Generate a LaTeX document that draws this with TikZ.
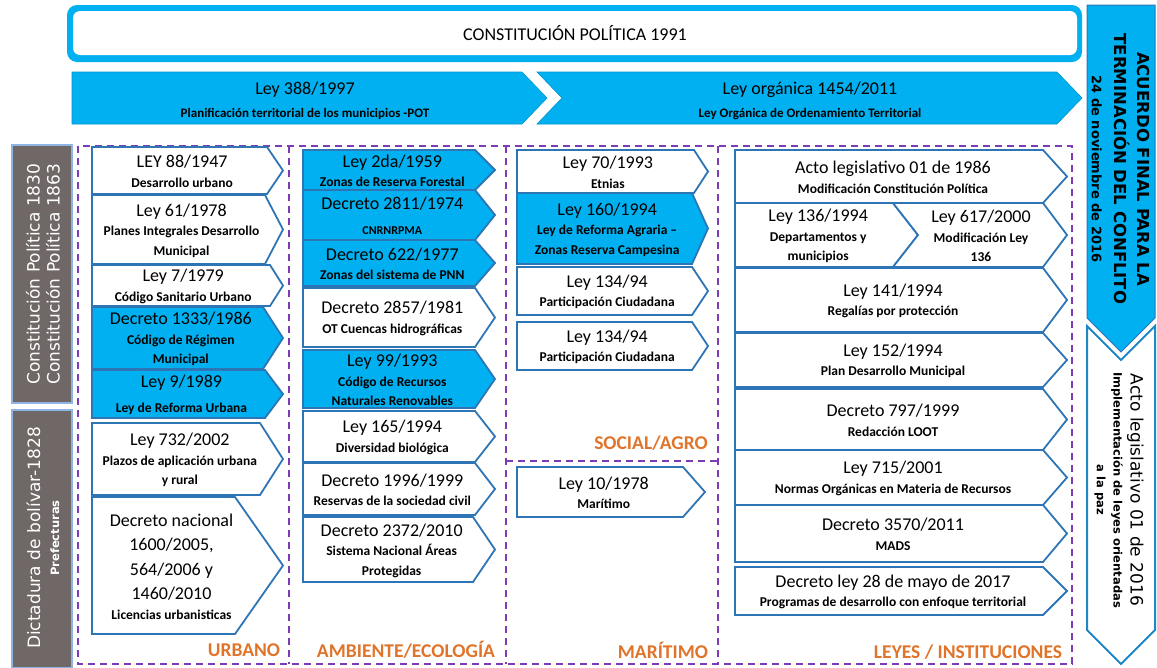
\documentclass[tikz,border=0pt]{standalone}
\usepackage{fontspec}
\setmainfont{Carlito}
\newfontfamily\dvs{DejaVu Sans}
\definecolor{cy}{HTML}{00B0F0}
\definecolor{bl}{HTML}{2E75B6}
\definecolor{pu}{HTML}{7D3CB5}
\definecolor{org}{HTML}{E0742A}
\definecolor{gy}{HTML}{6F6866}
\definecolor{lb}{HTML}{8FB4E3}
\newcommand\ttl{\fontsize{18}{20}\selectfont\mdseries}
\newcommand\sbt{\fontsize{13.5}{19.5}\selectfont\bfseries}
% name, x1, y1, xpoint, y2, depth, fill, text
\newcommand\lbox[8]{%
  \filldraw[boxline, fill=#7] (#2,#3) -- ({#4-#6},#3) -- (#4,{(#3+#5)/2}) -- ({#4-#6},#5) -- (#2,#5) -- cycle;
  \node[lt] (#1) at ({(#2+#4)/2-#6/3},{(#3+#5)/2+1}) {#8};}
\begin{document}
\begin{tikzpicture}[x=1pt,y=-1pt,
  boxline/.style={draw=bl,line width=1.8pt,line join=miter},
  lt/.style={align=center,inner sep=0pt,text=black,font=\sbt},
  dsh/.style={draw=pu,line width=1.8pt,dash pattern=on 7pt off 5pt},
  lab/.style={text=org,font=\fontsize{19.5}{22}\selectfont\bfseries,inner sep=0pt},
  gtx/.style={text=white,align=center,inner sep=0pt,rotate=90}]
\useasboundingbox (0,0) rectangle (1157,667);
% top box
\fill[cy,rounded corners=10pt] (67,5) rectangle (1082,62);
\fill[white,rounded corners=7pt] (73,11) rectangle (1077,55);
\node[lt] (const) at (575,33) {\ttl CONSTITUCIÓN POLÍTICA 1991};
% chevrons
\filldraw[fill=cy,draw=cy!85!black,line width=0.6pt] (72,72) -- (522,72) -- (547,98) -- (522,124) -- (72,124) -- cycle;
\filldraw[fill=cy,draw=cy!85!black,line width=0.6pt] (537,72) -- (1057,72) -- (1082,98) -- (1057,124) -- (537,124) -- (562,98) -- cycle;
\node[lt,font=\fontsize{13}{23}\selectfont\bfseries] (c1) at (305,101) {\ttl Ley 388/1997\\Planificación territorial de los municipios -POT};
\node[lt,font=\fontsize{13}{23}\selectfont\bfseries] (c2) at (810,101) {\ttl Ley orgánica 1454/2011\\Ley Orgánica de Ordenamiento Territorial};
% gray side boxes
\filldraw[fill=gy,draw=lb,line width=1.5pt] (12,145) rectangle (72,403);
\filldraw[fill=gy,draw=lb,line width=1.5pt] (12,410) rectangle (72,668);
\node[gtx,font=\dvs\fontsize{17}{20}\selectfont] (g1) at (43,274) {Constitución Política 1830\\Constitución Política 1863};
\node[gtx,font=\dvs\fontsize{17}{19}\selectfont] (g2) at (43,538) {Dictadura de bolívar-1828\\\fontsize{11.5}{17}\selectfont\bfseries Prefecturas};
% dashed frames
\draw[dsh] (78,146) rectangle (1072,664);
\draw[dsh] (289,146) -- (289,664);
\draw[dsh] (506,146) -- (506,664);
\draw[dsh] (718,146) -- (718,664);
\draw[dsh] (506,461) -- (718,461);
% column 1
\lbox{u1}{92}{147}{283}{194}{16}{white}{\ttl LEY 88/1947\\Desarrollo urbano}
\lbox{u2}{92}{195}{283}{264}{18}{white}{\ttl Ley 61/1978\\Planes Integrales Desarrollo\\Municipal}
\lbox{u3}{92}{265}{283}{306}{13}{white}{\ttl Ley 7/1979\\Código Sanitario Urbano}
\lbox{u4}{92}{307}{283}{369}{20}{cy}{\ttl Decreto 1333/1986\\Código de Régimen\\Municipal}
\lbox{u5}{92}{370}{283}{418}{18}{cy}{\ttl Ley 9/1989\\[5pt]Ley de Reforma Urbana}
\lbox{u6}{92}{423}{283}{495}{23}{white}{\ttl Ley 732/2002\\Plazos de aplicación urbana\\y rural}
\lbox{u7}{92}{497}{283}{634}{48}{white}{\ttl Decreto nacional\\[5pt]\ttl 1600/2005,\\[5pt]\ttl 564/2006 y\\[5pt]\ttl 1460/2010\\Licencias urbanisticas}
% column 2
\lbox{a1}{303}{150}{495}{190}{20}{cy}{\ttl Ley 2da/1959\\Zonas de Reserva Forestal}
\lbox{a2}{303}{190}{495}{240}{20}{cy}{\ttl Decreto 2811/1974\\[5pt]\fontsize{12}{19.5}\selectfont CNRNRPMA}
\lbox{a3}{303}{240}{495}{286}{20}{cy}{\ttl Decreto 622/1977\\Zonas del sistema de PNN}
\lbox{a4}{303}{288}{495}{347}{20}{white}{\ttl Decreto 2857/1981\\OT Cuencas hidrográficas}
\lbox{a5}{303}{350}{495}{408}{20}{cy}{\ttl Ley 99/1993\\Código de Recursos\\Naturales Renovables}
\lbox{a6}{303}{411}{495}{462}{20}{white}{\ttl Ley 165/1994\\Diversidad biológica}
\lbox{a7}{303}{463}{495}{515}{20}{white}{\ttl Decreto 1996/1999\\Reservas de la sociedad civil}
\lbox{a8}{303}{517}{495}{582}{22}{white}{\ttl Decreto 2372/2010\\Sistema Nacional Áreas\\Protegidas}
% column 3
\lbox{s1}{517}{150}{708}{193}{14}{white}{\ttl Ley 70/1993\\Etnias}
\lbox{s2}{517}{193}{708}{264}{16}{cy}{\ttl Ley 160/1994\\Ley de Reforma Agraria –\\Zonas Reserva Campesina}
\lbox{s3}{517}{267}{708}{315}{16}{white}{\ttl Ley 134/94\\Participación Ciudadana}
\lbox{s4}{517}{322}{708}{370}{16}{white}{\ttl Ley 134/94\\Participación Ciudadana}
\lbox{m1}{517}{467}{705}{517}{22}{white}{\ttl Ley 10/1978\\Marítimo}
% column 4
\lbox{l1}{735}{150}{1067}{203}{24}{white}{\ttl Acto legislativo 01 de 1986\\Modificación Constitución Política}
\lbox{l2a}{735}{203}{918}{267}{25}{white}{\ttl Ley 136/1994\\Departamentos y\\municipios}
\filldraw[boxline,fill=white] (893,203) -- (1043,203) -- (1067,235) -- (1043,267) -- (893,267) -- (918,235) -- cycle;
\node[lt] (l2b) at (981,236) {\ttl Ley 617/2000\\Modificación Ley\\136};
\lbox{l3}{735}{268}{1067}{332}{24}{white}{\ttl Ley 141/1994\\Regalías por protección}
\lbox{l4}{735}{333}{1067}{387}{24}{white}{\ttl Ley 152/1994\\Plan Desarrollo Municipal}
\lbox{l5}{735}{389}{1067}{450}{24}{white}{\ttl Decreto 797/1999\\Redacción LOOT}
\lbox{l6}{735}{450}{1067}{505}{24}{white}{\ttl Ley 715/2001\\Normas Orgánicas en Materia de Recursos}
\lbox{l7}{735}{505}{1067}{562}{24}{white}{\ttl Decreto 3570/2011\\MADS}
\lbox{l8}{735}{567}{1067}{615}{24}{white}{\ttl Decreto ley 28 de mayo de 2017\\Programas de desarrollo con enfoque territorial}
% column labels
\node[lab] (lu) at (244,650) {URBANO};
\node[lab] (la) at (406,650) {AMBIENTE/ECOLOGÍA};
\node[lab] (ls) at (651,443) {SOCIAL/AGRO};
\node[lab] (lm) at (663,650) {MARÍTIMO};
\node[lab] (ll) at (968,652) {LEYES / INSTITUCIONES};
% right column
\filldraw[fill=cy,draw=bl,line width=1pt] (1087,5) -- (1155,5) -- (1155,318) -- (1121,352) -- (1087,318) -- cycle;
\filldraw[fill=white,draw=bl!70!cy,line width=2pt] (1087,326) -- (1121,360) -- (1155,326) -- (1155,630) -- (1121,664) -- (1087,630) -- cycle;
\node[lt,rotate=-90,font=\dvs\bfseries\fontsize{16.5}{23}\selectfont] (acu) at (1121,169) {ACUERDO FINAL PARA LA\\TERMINACIÓN DEL CONFLITO\\\fontsize{13}{21}\selectfont 24 de noviembre de 2016};
\node[lt,rotate=-90,font=\dvs\bfseries\fontsize{11.5}{17}\selectfont] (act) at (1119,490) {\mdseries\fontsize{17}{20}\selectfont Acto legislativo 01 de 2016\\Implementación de leyes orientadas\\a la paz};
\end{tikzpicture}
\end{document}
